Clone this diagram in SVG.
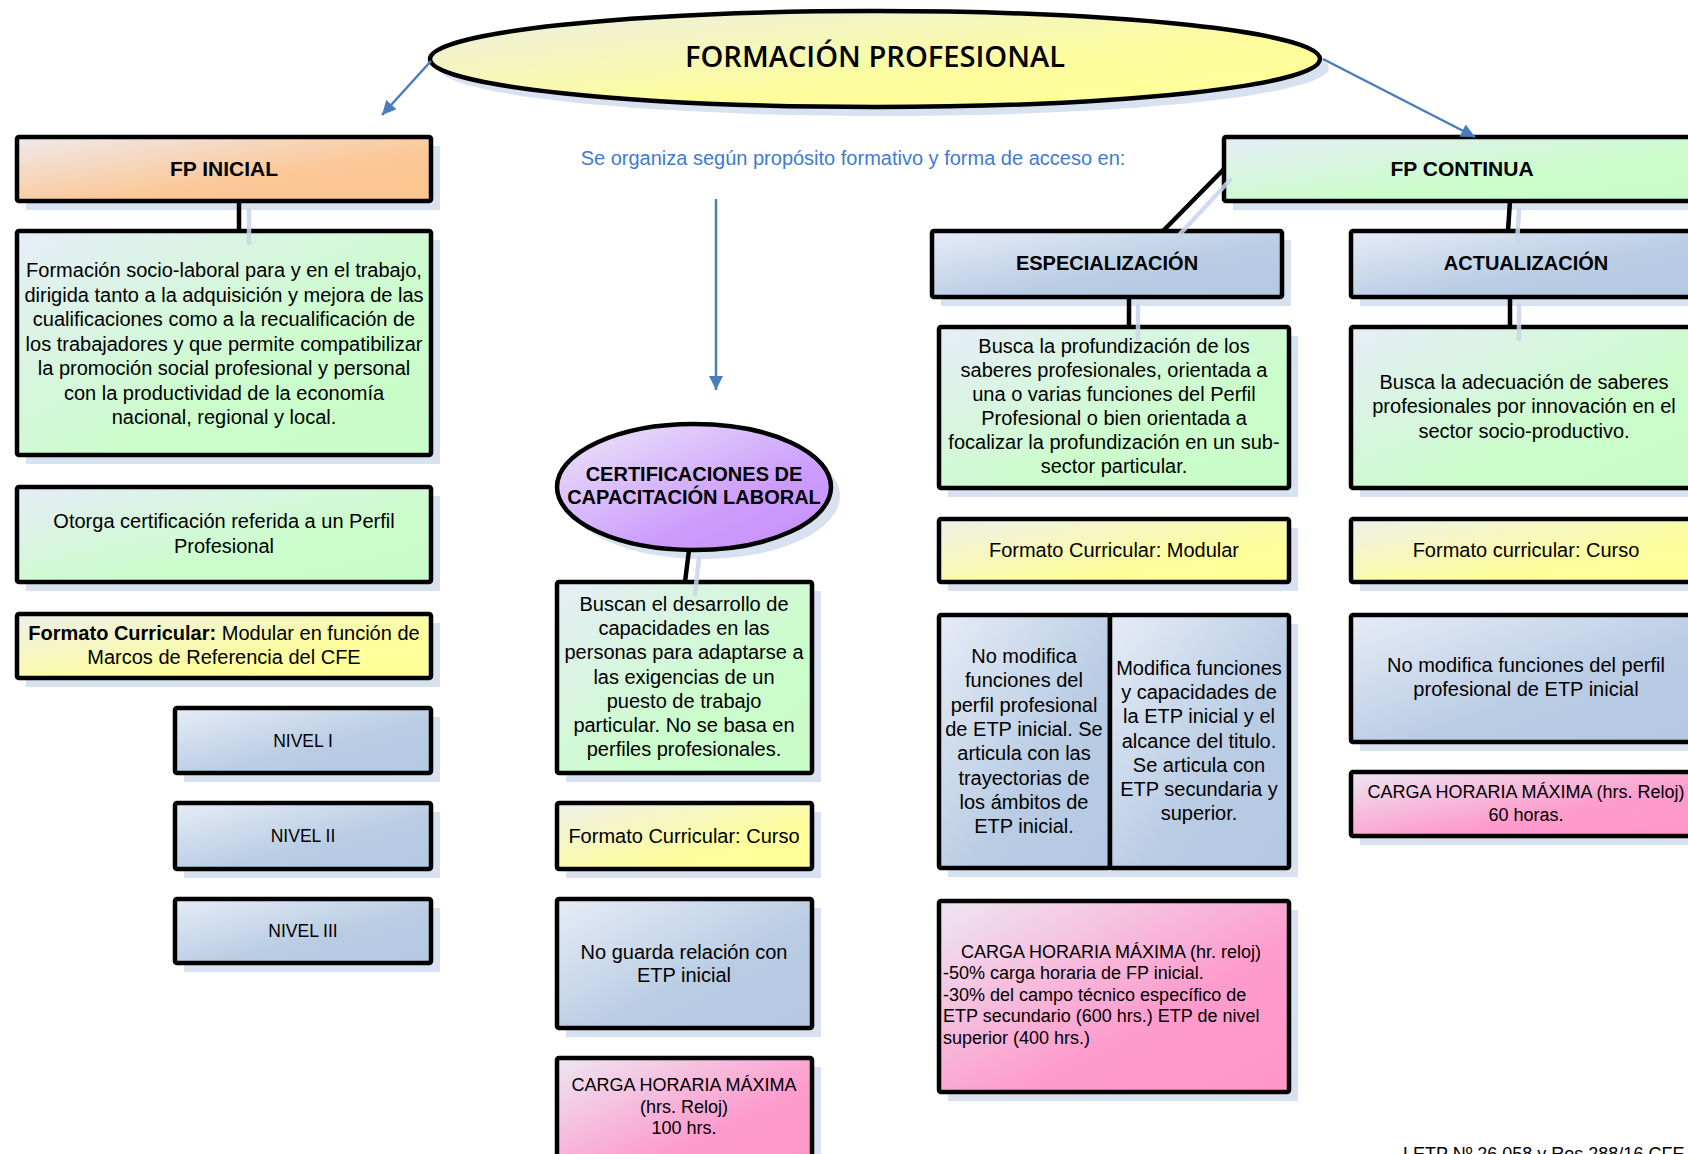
<svg xmlns="http://www.w3.org/2000/svg" width="1688" height="1154" viewBox="0 0 1688 1154">
<defs>
<linearGradient id="gG" x1="0" y1="0" x2="1" y2="1"><stop offset="0" stop-color="#e6edf7"/><stop offset="0.6" stop-color="#ccfccc"/><stop offset="1" stop-color="#c8fcc8"/></linearGradient>
<linearGradient id="gB" x1="0" y1="0" x2="1" y2="1"><stop offset="0" stop-color="#e6ecf6"/><stop offset="0.6" stop-color="#b9cce4"/><stop offset="1" stop-color="#b4c8e2"/></linearGradient>
<linearGradient id="gY" x1="0" y1="0" x2="1" y2="1"><stop offset="0" stop-color="#eef0ea"/><stop offset="0.65" stop-color="#fdfd9c"/><stop offset="1" stop-color="#ffff99"/></linearGradient>
<linearGradient id="gP" x1="0" y1="0" x2="1" y2="1"><stop offset="0" stop-color="#ede6f2"/><stop offset="0.6" stop-color="#fd9dcd"/><stop offset="1" stop-color="#ff96c8"/></linearGradient>
<linearGradient id="gO" x1="0" y1="0" x2="1" y2="1"><stop offset="0" stop-color="#efe9ec"/><stop offset="0.6" stop-color="#fbc898"/><stop offset="1" stop-color="#fcc48e"/></linearGradient>
<linearGradient id="gV" x1="0" y1="0" x2="1" y2="1"><stop offset="0" stop-color="#ece8f8"/><stop offset="0.65" stop-color="#cc9cfc"/><stop offset="1" stop-color="#c58ef8"/></linearGradient>
<linearGradient id="gM" x1="0" y1="0" x2="1" y2="1"><stop offset="0" stop-color="#eceee4"/><stop offset="0.6" stop-color="#fcfc9e"/><stop offset="1" stop-color="#ffff96"/></linearGradient>
<marker id="ah" viewBox="0 0 10 10" refX="10" refY="5" markerUnits="userSpaceOnUse" markerWidth="15" markerHeight="14" orient="auto"><path d="M0,0 L10,5 L0,10 z" fill="#4a7ebb"/></marker>
<style>
.box{stroke:#000;stroke-width:4.5}
.sh{fill:#d8e1ef}
.t{font-family:"Liberation Sans",Arial,sans-serif;font-size:20px;fill:#000;text-anchor:middle}
.title{font-family:"Open Sans","Liberation Sans",Arial,sans-serif;font-size:29.5px;font-weight:600;fill:#000;text-anchor:middle}
.s18{font-size:18px}
.s17{font-size:17.5px}
.b{font-weight:bold}
.l{text-anchor:start}
.con{stroke:#000;stroke-width:4.5;fill:none}
.csh{stroke:#c8d6ea;stroke-width:4.5;fill:none;stroke-linecap:round;opacity:0.85}
.arr{stroke:#4a7ebb;stroke-width:2.5;fill:none}
</style>
</defs>
<rect width="1688" height="1154" fill="#fff"/>

<g id="shadows">
<ellipse class="sh" cx="884" cy="68" rx="445" ry="48"/>
<rect class="sh" x="26" y="146" width="414" height="64"/>
<rect class="sh" x="26" y="240" width="414" height="224"/>
<rect class="sh" x="26" y="496" width="414" height="95"/>
<rect class="sh" x="26" y="623" width="414" height="64"/>
<rect class="sh" x="184" y="717" width="256" height="65"/>
<rect class="sh" x="184" y="812" width="256" height="66"/>
<rect class="sh" x="184" y="908" width="256" height="64"/>
<ellipse class="sh" cx="703" cy="496" rx="137" ry="63"/>
<rect class="sh" x="566" y="591" width="255" height="191"/>
<rect class="sh" x="566" y="812" width="255" height="66"/>
<rect class="sh" x="566" y="908" width="255" height="129"/>
<rect class="sh" x="566" y="1067" width="255" height="120"/>
<rect class="sh" x="1233" y="146" width="480" height="64"/>
<rect class="sh" x="941" y="240" width="350" height="66"/>
<rect class="sh" x="948" y="336" width="350" height="161"/>
<rect class="sh" x="948" y="528" width="350" height="63"/>
<rect class="sh" x="948" y="624" width="350" height="253"/>
<rect class="sh" x="948" y="910" width="350" height="191"/>
<rect class="sh" x="1360" y="240" width="350" height="66"/>
<rect class="sh" x="1360" y="336" width="350" height="161"/>
<rect class="sh" x="1360" y="528" width="350" height="63"/>
<rect class="sh" x="1360" y="624" width="350" height="127"/>
<rect class="sh" x="1360" y="781" width="350" height="64"/>
</g>

<g id="n-main">
<ellipse class="box" cx="875" cy="59" rx="445" ry="48" fill="url(#gM)"/>
<text class="title" x="875" y="67" textLength="380" lengthAdjust="spacingAndGlyphs">FORMACIÓN PROFESIONAL</text>
</g>

<g id="n-fpinicial">
<rect class="box" x="17" y="137" width="414" height="64" rx="2" fill="url(#gO)"/>
<text class="t b" x="224" y="176" style="font-size:21px">FP INICIAL</text>
</g>

<g id="n-inicial-def">
<rect class="box" x="17" y="231" width="414" height="224" rx="2" fill="url(#gG)"/>
<text class="t" x="224" y="277">Formación socio-laboral para y en el trabajo,</text>
<text class="t" x="224" y="301.5">dirigida tanto a la adquisición y mejora de las</text>
<text class="t" x="224" y="326">cualificaciones como a la recualificación de</text>
<text class="t" x="224" y="350.5">los trabajadores y que permite compatibilizar</text>
<text class="t" x="224" y="375">la promoción social profesional y personal</text>
<text class="t" x="224" y="399.5">con la productividad de la economía</text>
<text class="t" x="224" y="424">nacional, regional y local.</text>
</g>

<g id="n-inicial-cert">
<rect class="box" x="17" y="487" width="414" height="95" rx="2" fill="url(#gG)"/>
<text class="t" x="224" y="528">Otorga certificación referida a un Perfil</text>
<text class="t" x="224" y="553">Profesional</text>
</g>

<g id="n-inicial-formato">
<rect class="box" x="17" y="614" width="414" height="64" rx="2" fill="url(#gY)"/>
<text class="t" x="224" y="640"><tspan class="b">Formato Curricular:</tspan> Modular en función de</text>
<text class="t" x="224" y="664">Marcos de Referencia del CFE</text>
</g>

<g id="n-nivel1">
<rect class="box" x="175" y="708" width="256" height="65" rx="2" fill="url(#gB)"/>
<text class="t s17" x="303" y="747">NIVEL I</text>
</g>
<g id="n-nivel2">
<rect class="box" x="175" y="803" width="256" height="66" rx="2" fill="url(#gB)"/>
<text class="t s17" x="303" y="842">NIVEL II</text>
</g>
<g id="n-nivel3">
<rect class="box" x="175" y="899" width="256" height="64" rx="2" fill="url(#gB)"/>
<text class="t s17" x="303" y="937">NIVEL III</text>
</g>

<g id="n-organiza">
<text class="t" x="853" y="165" style="fill:#3f7ad6">Se organiza según propósito formativo y forma de acceso en:</text>
</g>

<g id="n-cert">
<ellipse class="box" cx="694" cy="487" rx="137" ry="63" fill="url(#gV)"/>
<text class="t b" x="694" y="481">CERTIFICACIONES DE</text>
<text class="t b" x="694" y="504">CAPACITACIÓN LABORAL</text>
</g>

<g id="n-cert-def">
<rect class="box" x="557" y="582" width="255" height="191" rx="2" fill="url(#gG)"/>
<text class="t" x="684" y="611">Buscan el desarrollo de</text>
<text class="t" x="684" y="635">capacidades en las</text>
<text class="t" x="684" y="659">personas para adaptarse a</text>
<text class="t" x="684" y="684">las exigencias de un</text>
<text class="t" x="684" y="708">puesto de trabajo</text>
<text class="t" x="684" y="732">particular. No se basa en</text>
<text class="t" x="684" y="756">perfiles profesionales.</text>
</g>

<g id="n-cert-formato">
<rect class="box" x="557" y="803" width="255" height="66" rx="2" fill="url(#gY)"/>
<text class="t" x="684" y="843">Formato Curricular: Curso</text>
</g>

<g id="n-cert-rel">
<rect class="box" x="557" y="899" width="255" height="129" rx="2" fill="url(#gB)"/>
<text class="t" x="684" y="959">No guarda relación con</text>
<text class="t" x="684" y="982">ETP inicial</text>
</g>

<g id="n-cert-carga">
<rect class="box" x="557" y="1058" width="255" height="120" rx="2" fill="url(#gP)"/>
<text class="t s18" x="684" y="1091">CARGA HORARIA MÁXIMA</text>
<text class="t s18" x="684" y="1113">(hrs. Reloj)</text>
<text class="t s18" x="684" y="1134">100 hrs.</text>
</g>

<g id="n-fpcontinua">
<rect class="box" x="1224" y="137" width="480" height="64" rx="2" fill="url(#gG)"/>
<text class="t b" x="1462" y="176" style="font-size:21px">FP CONTINUA</text>
</g>

<g id="n-esp">
<rect class="box" x="932" y="231" width="350" height="66" rx="2" fill="url(#gB)"/>
<text class="t b" x="1107" y="270">ESPECIALIZACIÓN</text>
</g>

<g id="n-esp-def">
<rect class="box" x="939" y="327" width="350" height="161" rx="2" fill="url(#gG)"/>
<text class="t" x="1114" y="353">Busca la profundización de los</text>
<text class="t" x="1114" y="377">saberes profesionales, orientada a</text>
<text class="t" x="1114" y="401">una o varias funciones del Perfil</text>
<text class="t" x="1114" y="425">Profesional o bien orientada a</text>
<text class="t" x="1114" y="449">focalizar la profundización en un sub-</text>
<text class="t" x="1114" y="473">sector particular.</text>
</g>

<g id="n-esp-formato">
<rect class="box" x="939" y="519" width="350" height="63" rx="2" fill="url(#gY)"/>
<text class="t" x="1114" y="557">Formato Curricular: Modular</text>
</g>

<g id="n-esp-nomod">
<rect class="box" x="939" y="615" width="171" height="253" rx="2" fill="url(#gB)"/>
<text class="t" x="1024" y="663">No modifica</text>
<text class="t" x="1024" y="687">funciones del</text>
<text class="t" x="1024" y="712">perfil profesional</text>
<text class="t" x="1024" y="736">de ETP inicial. Se</text>
<text class="t" x="1024" y="760">articula con las</text>
<text class="t" x="1024" y="785">trayectorias de</text>
<text class="t" x="1024" y="809">los ámbitos de</text>
<text class="t" x="1024" y="833">ETP inicial.</text>
</g>

<g id="n-esp-mod">
<rect class="box" x="1110" y="615" width="179" height="253" rx="2" fill="url(#gB)"/>
<text class="t" x="1199" y="675">Modifica funciones</text>
<text class="t" x="1199" y="699">y capacidades de</text>
<text class="t" x="1199" y="723">la ETP inicial y el</text>
<text class="t" x="1199" y="748">alcance del titulo.</text>
<text class="t" x="1199" y="772">Se articula con</text>
<text class="t" x="1199" y="796">ETP secundaria y</text>
<text class="t" x="1199" y="820">superior.</text>
</g>

<g id="n-esp-carga">
<rect class="box" x="939" y="901" width="350" height="191" rx="2" fill="url(#gP)"/>
<text class="t s18 l" x="961" y="958">CARGA HORARIA MÁXIMA (hr. reloj)</text>
<text class="t s18 l" x="943" y="979">-50% carga horaria de FP inicial.</text>
<text class="t s18 l" x="943" y="1001">-30% del campo técnico específico de</text>
<text class="t s18 l" x="943" y="1022">ETP secundario (600 hrs.) ETP de nivel</text>
<text class="t s18 l" x="943" y="1044">superior (400 hrs.)</text>
</g>

<g id="n-act">
<rect class="box" x="1351" y="231" width="350" height="66" rx="2" fill="url(#gB)"/>
<text class="t b" x="1526" y="270">ACTUALIZACIÓN</text>
</g>

<g id="n-act-def">
<rect class="box" x="1351" y="327" width="350" height="161" rx="2" fill="url(#gG)"/>
<text class="t" x="1524" y="389">Busca la adecuación de saberes</text>
<text class="t" x="1524" y="413">profesionales por innovación en el</text>
<text class="t" x="1524" y="438">sector socio-productivo.</text>
</g>

<g id="n-act-formato">
<rect class="box" x="1351" y="519" width="350" height="63" rx="2" fill="url(#gY)"/>
<text class="t" x="1526" y="557">Formato curricular: Curso</text>
</g>

<g id="n-act-nomod">
<rect class="box" x="1351" y="615" width="350" height="127" rx="2" fill="url(#gB)"/>
<text class="t" x="1526" y="672">No modifica funciones del perfil</text>
<text class="t" x="1526" y="696">profesional de ETP inicial</text>
</g>

<g id="n-act-carga">
<rect class="box" x="1351" y="772" width="350" height="64" rx="2" fill="url(#gP)"/>
<text class="t s18" x="1526" y="798">CARGA HORARIA MÁXIMA (hrs. Reloj)</text>
<text class="t s18" x="1526" y="821">60 horas.</text>
</g>

<g id="n-footer">
<text class="t s18 l" x="1403" y="1160">LETP Nº 26.058 y Res 288/16 CFE</text>
</g>

<g id="connectors">
<line class="csh" x1="249" y1="210" x2="249" y2="243"/>
<line class="csh" x1="699" y1="558" x2="695" y2="594"/>
<line class="csh" x1="1230" y1="180" x2="1180" y2="234"/>
<line class="csh" x1="1519" y1="210" x2="1517" y2="243"/>
<line class="csh" x1="1138" y1="306" x2="1138" y2="339"/>
<line class="csh" x1="1519" y1="306" x2="1519" y2="339"/>
<line class="con" x1="239" y1="201" x2="239" y2="231"/>
<line class="con" x1="689" y1="550" x2="685" y2="582"/>
<line class="con" x1="1224" y1="169" x2="1163" y2="231"/>
<line class="con" x1="1510" y1="201" x2="1508" y2="231"/>
<line class="con" x1="1129" y1="297" x2="1129" y2="327"/>
<line class="con" x1="1510" y1="297" x2="1510" y2="327"/>
<line class="arr" x1="431" y1="61" x2="382" y2="115" marker-end="url(#ah)"/>
<line class="arr" x1="1323" y1="59" x2="1475" y2="137" marker-end="url(#ah)"/>
<line class="arr" x1="716" y1="199" x2="716" y2="390" marker-end="url(#ah)"/>
</g>
</svg>
